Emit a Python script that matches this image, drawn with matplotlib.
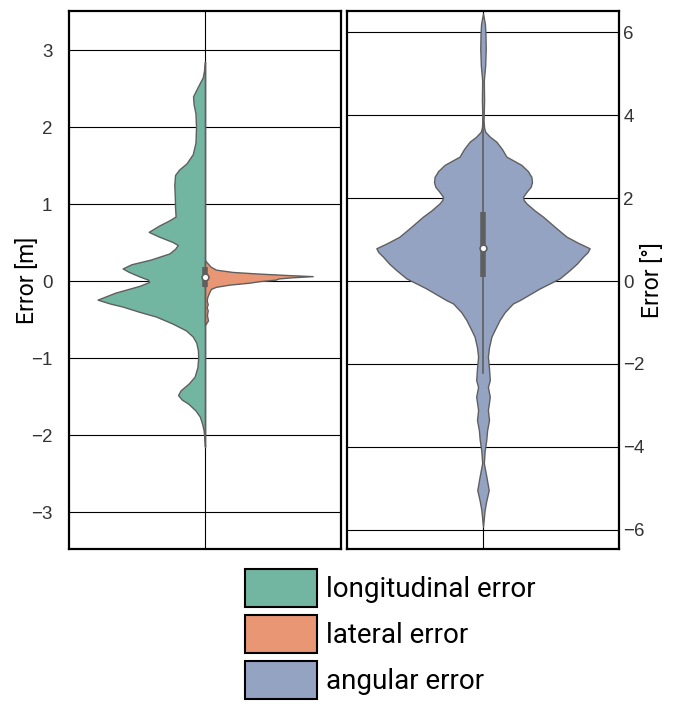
import colorsys
import numpy as np
import matplotlib
matplotlib.use("Agg")
import matplotlib.pyplot as plt
from matplotlib.patches import Patch

plt.rcParams['font.family'] = ['Liberation Sans', 'DejaVu Sans']

# ---- violin outlines: (value, half width) ----
long_y = [2.85, 2.75, 2.65, 2.50, 2.40, 2.30, 2.18, 2.00, 1.80, 1.65, 1.53, 1.45, 1.38,
          1.25, 1.10, 0.95, 0.84, 0.79, 0.72, 0.64, 0.58, 0.51, 0.47, 0.42, 0.36, 0.28,
          0.22, 0.165, 0.12, 0.06, 0.02, -0.01, -0.06, -0.15, -0.24, -0.29, -0.33, -0.40,
          -0.46, -0.55, -0.64, -0.72, -0.80, -0.90, -1.00, -1.12, -1.24, -1.33, -1.42,
          -1.48, -1.54, -1.59, -1.68, -1.76, -1.86, -1.94, -2.05, -2.15]
long_w = [0.0, 0.003, 0.008, 0.030, 0.044, 0.042, 0.035, 0.033, 0.035, 0.045, 0.068, 0.095, 0.110,
          0.113, 0.111, 0.110, 0.108, 0.131, 0.170, 0.207, 0.170, 0.120, 0.100, 0.110, 0.131, 0.200,
          0.270, 0.303, 0.280, 0.240, 0.210, 0.205, 0.240, 0.330, 0.395, 0.350, 0.303, 0.240,
          0.180, 0.120, 0.070, 0.045, 0.032, 0.026, 0.025, 0.028, 0.038, 0.060, 0.090,
          0.099, 0.085, 0.062, 0.035, 0.019, 0.010, 0.005, 0.002, 0.0]

lat_y = [0.27, 0.23, 0.19, 0.15, 0.12, 0.10, 0.08, 0.065, 0.05, 0.035, 0.02, 0.0, -0.02,
         -0.045, -0.074, -0.10, -0.14, -0.20, -0.25, -0.30, -0.34, -0.38, -0.44, -0.51, -0.57]
lat_w = [0.0, 0.010, 0.020, 0.040, 0.100, 0.190, 0.300, 0.396, 0.320, 0.270, 0.260, 0.200, 0.163,
         0.090, 0.040, 0.022, 0.016, 0.009, 0.006, 0.010, 0.006, 0.010, 0.007, 0.011, 0.0]

ang_y = [6.45, 6.2, 5.97, 5.6, 5.2, 4.84, 4.36, 3.88, 3.70, 3.60, 3.48, 3.36, 3.18, 3.0,
         2.80, 2.65, 2.51, 2.38, 2.27, 2.15, 2.03, 1.95, 1.87, 1.70, 1.55, 1.30, 1.07, 0.92,
         0.79, 0.70, 0.59, 0.42, 0.265, 0.065, -0.18, -0.46, -0.54, -0.75, -0.94, -1.15,
         -1.34, -1.60, -1.82, -2.1, -2.39, -2.55, -2.79, -3.11, -3.35, -3.6, -3.83, -4.1,
         -4.39, -4.7, -5.04, -5.30, -5.52, -5.92]
ang_w = [0.0, 0.007, 0.009, 0.010, 0.008, 0.003, 0.004, 0.002, 0.004, 0.008, 0.025, 0.049, 0.070, 0.086,
         0.141, 0.165, 0.178, 0.180, 0.175, 0.160, 0.147, 0.150, 0.160, 0.190, 0.221, 0.265, 0.307, 0.350,
         0.392, 0.385, 0.368, 0.345, 0.319, 0.282, 0.208, 0.135, 0.110, 0.080, 0.061, 0.045,
         0.031, 0.022, 0.018, 0.022, 0.025, 0.018, 0.025, 0.018, 0.022, 0.015, 0.012, 0.006,
         0.003, 0.012, 0.021, 0.012, 0.006, 0.0]

# inner boxes: q1, median, q3, whisker low, whisker high
pos_box = [-0.07, 0.056, 0.19, -0.07, 0.19]
ang_box = [0.10, 0.79, 1.67, -2.22, 3.9]

labels = ["longitudinal error", "lateral error", "angular error"]
base_colors = ["#66c2a5", "#fc8d62", "#8da0cb"]


def desaturate(c, prop=0.75):
    rgb = matplotlib.colors.to_rgb(c)
    h, l, s = colorsys.rgb_to_hls(*rgb)
    return colorsys.hls_to_rgb(h, l, s * prop)


colors = [desaturate(c) for c in base_colors]
edge = "#5f5f5f"
label_font = ['Roboto', 'DejaVu Sans']

fig = plt.figure(figsize=(6.87, 7.08), dpi=100)
ax1 = fig.add_axes([69 / 687, 159 / 708, 272 / 687, 538 / 708])
ax2 = fig.add_axes([347 / 687, 159 / 708, 272 / 687, 538 / 708])

# left: split violin
ly = np.array(long_y)
lw = np.array(long_w)
ax1.fill_betweenx(ly, -lw, 0, facecolor=colors[0], edgecolor=edge, lw=1, zorder=3)
ty = np.array(lat_y)
tw = np.array(lat_w)
ax1.fill_betweenx(ty, 0, tw, facecolor=colors[1], edgecolor=edge, lw=1, zorder=3)
ax1.plot([0, 0], [ly.min(), ly.max()], color=edge, lw=1, zorder=4)
ax1.plot([0, 0], [pos_box[3], pos_box[4]], color=edge, lw=1, zorder=5)
ax1.plot([0, 0], [pos_box[0], pos_box[2]], color=edge, lw=4, solid_capstyle='butt', zorder=5)
ax1.scatter([0], [pos_box[1]], s=24, color='white', edgecolor=edge, lw=1.2, zorder=6)

# right: angular violin
ay = np.array(ang_y)
aw = np.array(ang_w)
ax2.fill_betweenx(ay, -aw, aw, facecolor=colors[2], edgecolor=edge, lw=1, zorder=3)
ax2.plot([0, 0], [ang_box[3], ang_box[4]], color=edge, lw=1.2, zorder=5)
ax2.plot([0, 0], [ang_box[0], ang_box[2]], color=edge, lw=4, solid_capstyle='butt', zorder=5)
ax2.scatter([0], [ang_box[1]], s=24, color='white', edgecolor=edge, lw=1.2, zorder=6)

ax1.set_ylim(-3.48, 3.51)
ax1.set_yticks([-3, -2, -1, 0, 1, 2, 3])
ax2.set_ylim(-6.46, 6.51)
ax2.set_yticks([-6, -4, -2, 0, 2, 4, 6])

for ax in (ax1, ax2):
    ax.set_xlim(-0.5, 0.5)
    ax.set_xticks([0])
    ax.set_xticklabels([])
    ax.grid(True, color='black', lw=0.8, zorder=1)
    ax.set_axisbelow(True)
    ax.tick_params(length=0, labelsize=13.5, labelcolor='#333333')
    for s in ax.spines.values():
        s.set_linewidth(1.6)
        s.set_color('black')

ax1.tick_params(axis='y', pad=12)
ax2.yaxis.tick_right()
ax2.yaxis.set_label_position('right')
ax2.tick_params(axis='y', pad=3)

ax1.set_ylabel("Error [m]", fontsize=16.5, family=label_font)
ax2.set_ylabel("Error [°]", fontsize=16.5, family=label_font)
ax1.yaxis.set_label_coords(-0.11, 0.5)
ax2.yaxis.set_label_coords(1.08, 0.5)

handles = [Patch(facecolor=c, edgecolor='black', lw=1.5) for c in colors]
fig.legend(handles, labels, loc='upper left', bbox_to_anchor=(245 / 687, 1 - 569 / 708),
           frameon=False, prop={'family': label_font, 'size': 20},
           handlelength=2.6, handleheight=1.75,
           handletextpad=0.3, labelspacing=0.27, borderpad=0, borderaxespad=0)

fig.savefig("out.png", dpi=100)
